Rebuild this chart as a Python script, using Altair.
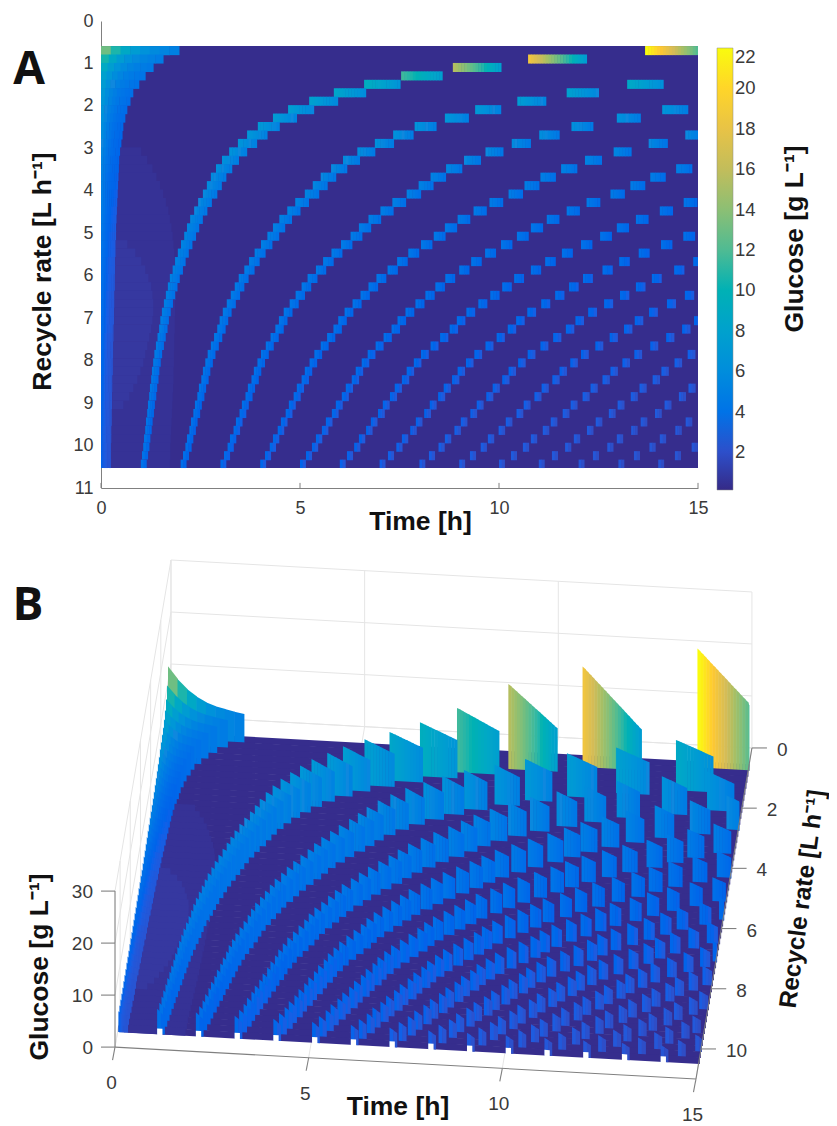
import altair as alt
import pandas as pd

# ---------- values ----------
RATE_START = 0.59
RATE_STEP = 0.1988
T_MAX = 15.0

# interval between glucose pulses on each recycle-rate row [h]
pulse_period = [13.67,10.73,8.84,7.54,6.61,5.85,5.23,4.70,4.32,3.94,3.67,3.44,3.22,3.04,2.89,2.76,2.66,
                2.56,2.44,2.34,2.24,2.16,2.09,2.01,1.93,1.86,1.80,1.73,1.68,1.63,1.58,1.53,1.49,1.46,
                1.42,1.38,1.34,1.31,1.28,1.26,1.23,1.21,1.18,1.16,1.13,1.11,1.08,1.06,1.03,1.00]
# glucose at the start and at the end of a first pulse, per row
pulse_peak = [22,18.5,15.5,11.5,9.5,8.5,8,7.6,7.3,7.1,6.9,6.7,6.5,6.3,6.1,5.9,5.8,5.7,5.6,5.5,5.4,5.3,5.25,5.2,
              5.15,5.1,5.05,5,4.95,4.9,4.85,4.8,4.75,4.7,4.65,4.6,4.55,4.5,4.45,4.4,4.35,4.3,4.25,4.2,
              4.15,4.1,4.05,4,3.95,3.9]
pulse_tail = [7.5,7,7.5,7.5,6.5,5.8,5.5,5.2,5,4.9,4.8,4.7,4.6,4.5,4.4,4.3,4.2,4.1,4.05,4,3.95,3.9,3.85,3.8,
              3.75,3.7,3.65,3.6,3.55,3.5,3.45,3.4,3.35,3.3,3.25,3.2,3.15,3.1,3.05,3,2.95,2.9,2.85,2.8,
              2.75,2.7,2.65,2.6,2.55,2.5]
pulse_fade = [1,0.93,0.87,0.82,0.78,0.74,0.71,0.68,0.66,0.64,0.62,0.6,0.59,0.58,0.57,0.56,0.55]
PULSE_WIDTH_SHARE = 0.137
FIN_EXTRA_WIDTH = 0.05

# initial glucose wash-out on the left edge, per row
wash_end = [1.96,1.56,1.31,1.11,0.95,0.80,0.73,0.65,0.60,0.55,0.53,0.50,0.48,0.46,0.45,0.44,0.43,0.42,0.41,
            0.40,0.39,0.38,0.38,0.37,0.37,0.36,0.36,0.35,0.35,0.34,0.34,0.33,0.33,0.32,0.32,0.31,0.31,0.30,
            0.30,0.29,0.29,0.28,0.28,0.27,0.27,0.26,0.26,0.25,0.25,0.25]
wash_start_value = [13,10.5,9,8,7.4,7,6.8,6.5,6.3,6,5.8,5.6,5.4,5.2,5,4.9,4.8,4.7,4.6,4.5,4.4,4.3,4.2,4.1,
                    4,3.9,3.8,3.8,3.7,3.7,3.6,3.6,3.5,3.5,3.4,3.4,3.3,3.3,3.3,3.2,3.2,3.2,3.1,3.1,3.1,3,3,3,3,3]
wash_end_value = [4.6,4.4,4.2,4,3.8,3.6,3.5,3.4,3.3,3.2,3.1,3,3,2.9,2.9,2.8,2.8,2.7,2.7,2.6,2.6,2.6,2.5,2.5,2.5,
                  2.4,2.4,2.4,2.4,2.3,2.3,2.3,2.3,2.3,2.2,2.2,2.2,2.2,2.2,2.2,2.2,2.2,2.2,2.2,2.2,2.2,2.2,2.2,2.2,2.2]
wash_curve = [0,0.28,0.5,0.66,0.78,0.86,0.91,0.96,1]
# faint lighter patches behind the first pulses
patch_outer_end = [0]*12 + [1.0,1.15,1.28,1.38,1.47,1.55,1.62,1.68,1.72,1.76,1.79,1.81,1.83,1.85,1.86,1.86,1.86,
                            1.86,1.85,1.85,1.84,1.84,1.83,1.83,1.82,1.82,1.81,1.81,1.80,1.79,1.78,1.77,1.76,
                            1.75,1.74,1.73,1.73,1.72]
patch_inner_end = [0]*23 + [.65,.85,1.0,1.1,1.18,1.25,1.28,1.3,1.3,1.28,1.25,1.2,1.15,1.1,1.05,.98,.9,.8,.7,.55] + [0]*7
BASE_VALUE = 0.3
PATCH_OUTER_VALUE = 0.55
PATCH_INNER_VALUE = 0.85

parula = ["#352a87","#0a62ea","#1088de","#06a4ca","#2eb7a4","#87bf77","#d1bb59","#fec832","#f9fb0e"]
V_MIN, V_MAX = 0.12, 22.0
color_domain = [V_MIN + i * (V_MAX - V_MIN) / 8 for i in range(9)]

time_ticks = [0, 5, 10, 15]
rate_ticks_a = list(range(12))
rate_ticks_b = [0, 2, 4, 6, 8, 10]
glucose_ticks_a = list(range(2, 23, 2))
glucose_ticks_b = [0, 10, 20, 30]

INK = "#3a3a3a"
AXIS_GREY = "#808080"
GRID_GREY = "#e5e5e5"
FONT = "Liberation Sans"
TITLE_SIZE = 26.5
TICK_SIZE = 18

# ---------- cells of the surface, shared by both panels ----------
def row_cells(n):
    """(t0, t1, v0, v1, stretch) in drawing order; stretch widens a pulse cell in the 3-D view"""
    cells = []
    end = wash_end[n]
    s, e = wash_start_value[n], wash_end_value[n]
    for i in range(8):
        a, b = end * i / 8, end * (i + 1) / 8
        cells.append((a, b, s + (e - s) * wash_curve[i], s + (e - s) * wash_curve[i + 1], None))
    if patch_outer_end[n] > end:
        cells.append((end, patch_outer_end[n], PATCH_OUTER_VALUE, PATCH_OUTER_VALUE, None))
    if patch_inner_end[n] > end:
        cells.append((end, patch_inner_end[n], PATCH_INNER_VALUE, PATCH_INNER_VALUE, None))
    period = pulse_period[n]
    width = period * PULSE_WIDTH_SHARE
    slices = int(width * 39.8 / 3) + 1
    k = 1
    while k * period < T_MAX:
        fade = pulse_fade[min(k - 1, len(pulse_fade) - 1)]
        start = k * period
        for i in range(slices):
            a = start + width * i / slices
            b = start + width * (i + 1) / slices
            if a >= T_MAX:
                break
            p, q = pulse_peak[n] * fade, pulse_tail[n] * fade
            cells.append((a, min(b, T_MAX), p + (q - p) * i / slices, p + (q - p) * (i + 1) / slices,
                          (start, (width + FIN_EXTRA_WIDTH) / width)))
        k += 1
    return cells

n_rows = len(pulse_period)
rate_at = [RATE_START + RATE_STEP * n for n in range(n_rows + 1)]

# Panel A table
a_rows = [dict(t0=0, t1=T_MAX, r0=rate_at[0], r1=rate_at[-1], v=BASE_VALUE)]
for n in range(n_rows):
    bottom = rate_at[n + 1] + (0.015 if n < n_rows - 1 else 0)
    for a, b, v0, v1, _ in row_cells(n):
        a_rows.append(dict(t0=round(a, 3), t1=round(min(b + 0.012, T_MAX), 3),
                           r0=round(rate_at[n], 3), r1=round(bottom, 3), v=round(v0, 2)))
a_df = pd.DataFrame(a_rows)

color_scale = alt.Scale(domain=color_domain, range=parula, clamp=True)

x_a = alt.X("t0:Q", scale=alt.Scale(domain=[0, 15], nice=False, zero=False),
            axis=alt.Axis(values=time_ticks, title="Time [h]", ticks=False, grid=False, format="d",
                          domainColor=AXIS_GREY, labelColor=INK, labelFontSize=TICK_SIZE, labelFont=FONT,
                          labelPadding=11, titleFont=FONT, titleFontSize=TITLE_SIZE, titleFontWeight="bold",
                          titleColor="#111111", titleX=319, titleY=33, titleAlign="center",
                          titleBaseline="middle", labelFlush=False))
y_a = alt.Y("r0:Q", scale=alt.Scale(domain=[11, 0], nice=False, zero=False),
            axis=alt.Axis(values=rate_ticks_a, title="Recycle rate [L h⁻¹]", ticks=False, grid=False, format="d",
                          domainColor=AXIS_GREY, labelColor=INK, labelFontSize=TICK_SIZE, labelFont=FONT,
                          labelPadding=8, titleFont=FONT, titleFontSize=TITLE_SIZE, titleFontWeight="bold",
                          titleColor="#111111", titleX=-59, titleY=250, titleAlign="center",
                          titleBaseline="middle"))

heat = alt.Chart(a_df).mark_rect(strokeWidth=0).encode(
    x=x_a, x2="t1:Q", y=y_a, y2="r1:Q",
    color=alt.Color("v:Q", scale=color_scale,
                    legend=alt.Legend(title=None, orient="none", legendX=616, legendY=27, direction="vertical",
                                      gradientLength=442, gradientThickness=16, values=glucose_ticks_a,
                                      labelFontSize=18.5, labelFont=FONT, labelColor=INK,
                                      gradientStrokeColor="#888888", gradientStrokeWidth=0.5)))

x_tick_df = pd.DataFrame({"t": time_ticks, "a": [11.0] * 4, "b": [10.88] * 4})
x_ticks_a = alt.Chart(x_tick_df).mark_rule(color=AXIS_GREY).encode(x="t:Q", y="a:Q", y2="b:Q")

def label(text, x, y, size, angle=0, weight="bold", color="#111111", font=FONT):
    return alt.Chart(pd.DataFrame({"s": [text]})).mark_text(
        fontSize=size, fontWeight=weight, color=color, font=font, angle=angle,
        align="center", baseline="middle").encode(text="s:N", x=alt.value(x), y=alt.value(y))

OX, OY_A = 101, 20
panel_a = alt.layer(
    heat, x_ticks_a,
    label("Glucose [g L⁻¹]", 795 - OX, 238 - OY_A, TITLE_SIZE, angle=270),
    label("A", 29 - OX, 69 - OY_A, 46, font="Open Sans"),
).properties(width=597, height=467)

# ---------- Panel B: the same cells seen through the reference's 3-D view ----------
VIEW_X0, VIEW_XT, VIEW_XR = 171.0, 38.73, -5.09
VIEW_Y0, VIEW_YT, VIEW_YR, VIEW_YZ = 717.0, 2.13, 30.1, -5.2
RATE_AXIS_END = 11

def px(t, r):
    return VIEW_X0 + VIEW_XT * t + VIEW_XR * r

def py(t, r, z):
    return VIEW_Y0 + VIEW_YT * t + VIEW_YR * r + VIEW_YZ * z

b_rows, sid = [], 0
def add_quad(t0, t1, r_top, r_bot, v0, v1, color_v):
    global sid
    x0 = px(t0, r_top)
    x1 = px(t1, r_top) + 0.5
    b_rows.append(dict(id=sid, x=round(x0, 2), y=round(py(t0, r_top, v0), 2),
                       y2=round(py(t0, r_bot, BASE_VALUE) + 0.7, 2), v=round(color_v, 2)))
    b_rows.append(dict(id=sid, x=round(x1, 2), y=round(py(t1, r_top, v1), 2),
                       y2=round(py(t1, r_bot, BASE_VALUE) + 0.7, 2), v=round(color_v, 2)))
    sid += 1

notch_rows = []
for n in range(n_rows):
    add_quad(0, T_MAX, rate_at[n], rate_at[n + 1], BASE_VALUE, BASE_VALUE, BASE_VALUE)
    for a, b, v0, v1, stretch in row_cells(n):
        if stretch:
            start, factor = stretch
            a = min(start + (a - start) * factor, T_MAX)
            b = min(start + (b - start) * factor, T_MAX)
        add_quad(a, b, rate_at[n], rate_at[n + 1], v0, v1, v0)

last = n_rows - 1
k = 1
while k * pulse_period[last] < T_MAX:
    t0 = k * pulse_period[last]
    t1 = t0 + pulse_period[last] * PULSE_WIDTH_SHARE
    for t in (t0, t1):
        notch_rows.append(dict(id=k, x=round(px(t, rate_at[last]), 2),
                               y=round(py(t, rate_at[last], BASE_VALUE) + 1, 2),
                               y2=round(py(t, rate_at[-1], BASE_VALUE) + 2, 2)))
    k += 1

b_df = pd.DataFrame(b_rows)
notch_df = pd.DataFrame(notch_rows)

SCENE_TOP, SCENE_BOTTOM = 540, 1110
x_b = alt.X("x:Q", axis=None, scale=alt.Scale(domain=[OX, OX + 597], nice=False, zero=False))
y_b = alt.Y("y:Q", axis=None, scale=alt.Scale(domain=[SCENE_BOTTOM, SCENE_TOP], nice=False, zero=False))

# grid lines and axis lines, projected from their 3-D ends
def segments(pairs):
    rows = []
    for i, (p, q) in enumerate(pairs):
        rows.append(dict(id=i, o=0, x=round(p[0], 2), y=round(p[1], 2)))
        rows.append(dict(id=i, o=1, x=round(q[0], 2), y=round(q[1], 2)))
    return pd.DataFrame(rows)

def P(t, r, z):
    return (px(t, r), py(t, r, z))

grid_pairs = []
for z in glucose_ticks_b:
    grid_pairs.append((P(0, 0, z), P(15, 0, z)))
    grid_pairs.append((P(0, 0, z), P(0, RATE_AXIS_END, z)))
for t in time_ticks:
    grid_pairs.append((P(t, 0, 0), P(t, 0, 30)))
    grid_pairs.append((P(t, 0, 0), P(t, RATE_AXIS_END, 0)))
for r in rate_ticks_b:
    grid_pairs.append((P(0, r, 0), P(0, r, 30)))
    grid_pairs.append((P(0, r, 0), P(15, r, 0)))

Z_TICK = 14
R_TICK = 15
axis_pairs = [(P(0, RATE_AXIS_END, 0), P(0, RATE_AXIS_END, 30)),
              (P(0, RATE_AXIS_END, 0), P(15, RATE_AXIS_END, 0)),
              (P(15, RATE_AXIS_END, 0), P(15, 0, 0))]
for z in glucose_ticks_b:
    p = P(0, RATE_AXIS_END, z)
    axis_pairs.append((p, (p[0] - Z_TICK, p[1])))
for t in time_ticks:
    p = P(t, RATE_AXIS_END, 0)
    axis_pairs.append((p, (p[0] - 2.5, p[1] + 13)))
for r in rate_ticks_b:
    p = P(15, r, 0)
    axis_pairs.append((p, (p[0] + R_TICK, p[1])))

def lines(pairs, color, width):
    return alt.Chart(segments(pairs)).mark_line(color=color, strokeWidth=width).encode(
        x=x_b, y=y_b, detail="id:N", order="o:Q")

surface = alt.Chart(b_df).mark_area(orient="vertical", strokeWidth=0).encode(
    x=x_b, y=y_b, y2="y2:Q", detail="id:N",
    color=alt.Color("v:Q", scale=color_scale, legend=None))
notches = alt.Chart(notch_df).mark_area(orient="vertical", color="white").encode(
    x=x_b, y=y_b, y2="y2:Q", detail="id:N")

def tick_labels(values, xs, ys, dx, dy, align):
    df = pd.DataFrame({"s": [str(v) for v in values], "x": xs, "y": ys})
    return alt.Chart(df).mark_text(fontSize=19, font=FONT, color=INK, dx=dx, dy=dy,
                                   align=align, baseline="middle").encode(x=x_b, y=y_b, text="s:N")

z_labels = tick_labels(glucose_ticks_b, [px(0, RATE_AXIS_END)] * 4,
                       [py(0, RATE_AXIS_END, z) for z in glucose_ticks_b], -22, 1, "right")
t_labels = tick_labels(time_ticks, [px(t, RATE_AXIS_END) for t in time_ticks],
                       [py(t, RATE_AXIS_END, 0) for t in time_ticks], -3.5, 36, "center")
r_labels = tick_labels(rate_ticks_b, [px(15, r) for r in rate_ticks_b],
                       [py(15, r, 0) for r in rate_ticks_b], 25, 2, "left")

panel_b = alt.layer(
    lines(grid_pairs, GRID_GREY, 1),
    surface,
    notches,
    lines(axis_pairs, AXIS_GREY, 1.1),
    z_labels, t_labels, r_labels,
    label("Time [h]", 398 - OX, 1108 - SCENE_TOP, TITLE_SIZE),
    label("Glucose [g L⁻¹]", 40 - OX, 968 - SCENE_TOP, TITLE_SIZE, angle=270),
    label("Recycle rate [L h⁻¹]", 803 - OX, 900 - SCENE_TOP, 24.5, angle=277.6),
    label("B", 28 - OX, 607 - SCENE_TOP, 46, font="Open Sans"),
).properties(width=597, height=SCENE_BOTTOM - SCENE_TOP)

chart = alt.vconcat(panel_a, panel_b, spacing=4).resolve_scale(
    color="independent", x="independent", y="independent"
).properties(padding={"left": 4, "top": 4, "right": 0, "bottom": 0}
).configure_view(stroke=None)

chart.save("out.html", embed_options={"renderer": "svg", "actions": False})
